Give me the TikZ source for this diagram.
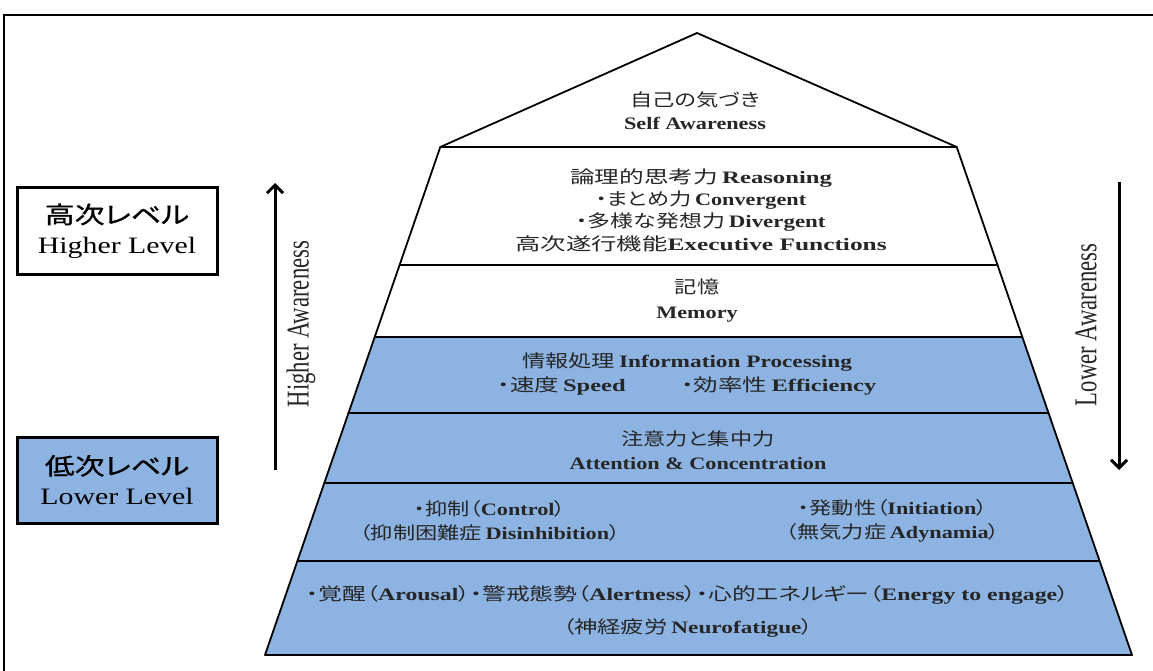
\documentclass[tikz,border=0pt]{standalone}
\usepackage{fontspec}
\setmainfont{Liberation Serif}
\newfontfamily\jpfont[RawFeature=+palt]{Noto Sans CJK JP}
\newfontfamily\jpmed[RawFeature=+palt, FakeBold=0.9]{Noto Sans CJK JP}
\usetikzlibrary{arrows.meta}
\definecolor{pyblue}{RGB}{141,179,226}
\newcommand{\hx}[1]{\scalebox{1.27}[1]{#1}}
\newcommand{\hxs}[2]{\scalebox{#1}[1]{#2}}
\newcommand{\jp}[1]{{\jpfont #1}}
\newcommand{\eb}[1]{\textbf{#1}}
\begin{document}
\begin{tikzpicture}[x=1pt,y=-1pt,
  tier/.style={draw=black, line width=1.8pt, line join=round},
  lvlbox/.style={draw=black, line width=3pt},
  ptext/.style={align=center, inner sep=0pt, text=black!85},
  ltext/.style={align=center, inner sep=0pt, font=\fontsize{23.5}{30}\selectfont},
  awtext/.style={rotate=90, inner sep=0pt, font=\fontsize{22.7}{24}\selectfont, text=black!85},
  awarrow/.style={line width=3pt, -{Straight Barb[length=8pt,width=16pt,line width=3pt]}}
]
\useasboundingbox (0,0) rectangle (1153,671);
\fill[white] (0,0) rectangle (1153,671);
% outer frame
\coordinate (fr1) at (1165,15);
\coordinate (fr2) at (4,15);
\coordinate (fr3) at (4,680);
\draw[line width=2.5pt] (fr1) -- (fr2) -- (fr3);

% pyramid tiers
\path[tier, fill=white] (697,33) -- (956.7,147) -- (440.3,147) -- cycle;
\path[tier, fill=white] (440.3,147) -- (956.7,147) -- (997.5,265) -- (399.6,265) -- cycle;
\path[tier, fill=white] (399.6,265) -- (997.5,265) -- (1022.3,337) -- (374.7,337) -- cycle;
\path[tier, fill=pyblue] (374.7,337) -- (1022.3,337) -- (1048.5,413) -- (348.5,413) -- cycle;
\path[tier, fill=pyblue] (348.5,413) -- (1048.5,413) -- (1072.7,483) -- (324.3,483) -- cycle;
\path[tier, fill=pyblue] (324.3,483) -- (1072.7,483) -- (1099.6,561) -- (297.4,561) -- cycle;
\path[tier, fill=pyblue] (297.4,561) -- (1099.6,561) -- (1132,655) -- (265,655) -- cycle;

% tier texts
\node[ptext, font=\fontsize{17.5}{23}\selectfont] (self) at (695,111)
  {\hx{\jp{自己の気づき}}\\\hx{\eb{Self Awareness}}};
\node[ptext, font=\fontsize{17.5}{22.4}\selectfont] (reason) at (701,210)
  {\hxs{1.41}{\jp{論理的思考力}\,\eb{Reasoning}}\\
   \hx{\jp{・まとめ力}\,\eb{Convergent}}\\
   \hxs{1.31}{\jp{・多様な発想力}\,\eb{Divergent}}\\
   \hxs{1.45}{\jp{高次遂行機能}\eb{Executive Functions}}};
\node[ptext, font=\fontsize{17.5}{25}\selectfont] (memory) at (697,301)
  {\hx{\jp{記憶}}\\\hx{\eb{Memory}}};
\node[ptext, font=\fontsize{17.5}{24}\selectfont] (info) at (687,374)
  {\hxs{1.33}{\jp{情報処理}\,\eb{Information Processing}}\\
   \hxs{1.4}{\jp{・速度}\,\eb{Speed}\hspace{40pt}\jp{・効率性}\,\eb{Efficiency}}};
\node[ptext, font=\fontsize{17.5}{24}\selectfont] (attn) at (698,450)
  {\hx{\jp{注意力と集中力}}\\\hx{\eb{Attention \& Concentration}}};
\node[ptext, font=\fontsize{17.5}{24}\selectfont] (ctrl) at (490,521)
  {\hx{\jp{・抑制（}\eb{Control}\jp{）}}\\
   \hx{\jp{（抑制困難症}\,\eb{Disinhibition}\jp{）}}};
\node[ptext, font=\fontsize{17.5}{24}\selectfont] (init) at (893,521)
  {\hx{\jp{・発動性（}\eb{Initiation}\jp{）}}\\
   \hx{\jp{（無気力症}\,\eb{Adynamia}\jp{）}}};
\node[ptext, font=\fontsize{17.5}{33}\selectfont] (arousal) at (688,611)
  {\hxs{1.36}{\jp{・覚醒（}\eb{Arousal}\jp{）・警戒態勢（}\eb{Alertness}\jp{）・心的エネルギー（}\eb{Energy to engage}\jp{）}}\\
   \hxs{1.33}{\jp{（神経疲労}\,\eb{Neurofatigue}\jp{）}}};

% level boxes
\node[lvlbox, fill=white, minimum width=200pt, minimum height=86pt] (hibox) at (117,231) {};
\node[ltext] (hitext) at (hibox.center) {\hx{{\jpmed 高次レベル}}\\\hx{Higher Level}};
\node[lvlbox, fill=pyblue, minimum width=200pt, minimum height=86pt] (lobox) at (117,480) {};
\node[ltext] (lotext) at (lobox.center) {\hx{{\jpmed 低次レベル}}\\\hx{Lower Level}};

% awareness arrows
\coordinate (ua0) at (275,470);
\coordinate (ua1) at (275,183);
\draw[awarrow] (ua0) -- (ua1);
\node[awtext] (hiaw) at (301,324) {\scalebox{1}[1.4]{Higher Awareness}};
\coordinate (da0) at (1119,182);
\coordinate (da1) at (1119,470);
\draw[awarrow] (da0) -- (da1);
\node[awtext] (loaw) at (1086,325) {\scalebox{1}[1.4]{Lower Awareness}};
\end{tikzpicture}
\end{document}
